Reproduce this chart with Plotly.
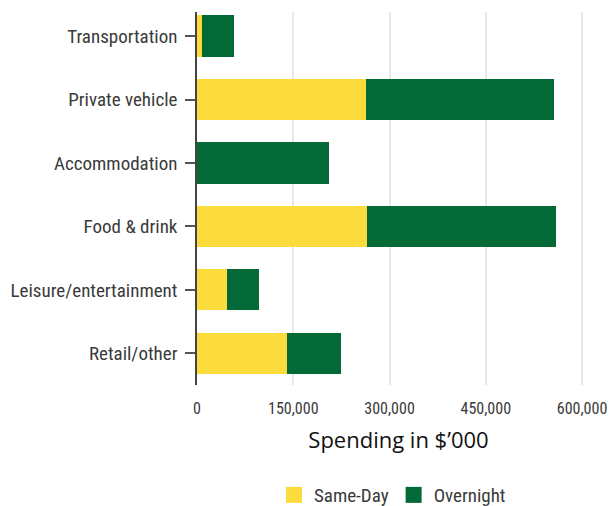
import plotly.graph_objects as go

categories = ["Transportation", "Private vehicle", "Accommodation", "Food & drink",
              "Leisure/entertainment", "Retail/other"]
same_day = [8000, 264000, 0, 265000, 46000, 141000]
overnight = [50000, 293000, 206000, 295000, 51000, 84000]
tick_vals = [0, 150000, 300000, 450000, 600000]
tick_text = ["0", "150,000", "300,000", "450,000", "600,000"]
series_names = ["Same-Day", "Overnight"]
series_colors = ["#FCDB3D", "#036936"]

FONT = "Roboto Condensed, Liberation Sans Narrow, Roboto"

fig = go.Figure()
for vals, name, col in zip([same_day, overnight], series_names, series_colors):
    fig.add_trace(go.Bar(y=categories, x=vals, name=name, orientation="h",
                         marker=dict(color=col, line=dict(width=0)), showlegend=False))
# legend entries with larger square swatches
for name, col in zip(series_names, series_colors):
    fig.add_trace(go.Scatter(x=[None], y=[None], mode="markers", name=name,
                             marker=dict(symbol="square", size=16, color=col)))

fig.update_layout(
    barmode="stack",
    bargap=0.35,
    width=610, height=506,
    margin=dict(l=197, r=10, t=12, b=121, autoexpand=False),
    plot_bgcolor="white",
    paper_bgcolor="white",
    font=dict(family=FONT, size=17, color="#3a3a3a"),
    showlegend=True,
    legend=dict(orientation="h", x=0.485, xanchor="center", y=-0.295, yanchor="middle",
                font=dict(family=FONT, size=19, color="#3a3a3a"),
                traceorder="normal", itemwidth=30),
    xaxis=dict(range=[0, 628000], tickvals=tick_vals, ticktext=tick_text,
               showgrid=True, gridcolor="#e8e8e8", gridwidth=1.5,
               zeroline=False, showline=False, automargin=False,
               ticks="outside", ticklen=9, tickcolor="rgba(0,0,0,0)",
               tickfont=dict(family=FONT, size=16, color="#3a3a3a"),
               title=dict(text="Spending in $’000",
                          font=dict(family="Open Sans", size=22, color="#111"),
                          standoff=15)),
    yaxis=dict(range=[5.5, -0.38], showline=True, linecolor="#444", linewidth=1.5,
               ticks="outside", ticklen=10, tickcolor="#555", tickwidth=1.5,
               ticklabelstandoff=4, automargin=False,
               tickfont=dict(family=FONT, size=19, color="#3a3a3a"),
               showgrid=False),
)

fig.write_html("out.html", config={"displayModeBar": False},
               post_script="document.body.style.margin='0';document.body.style.overflow='hidden';")
